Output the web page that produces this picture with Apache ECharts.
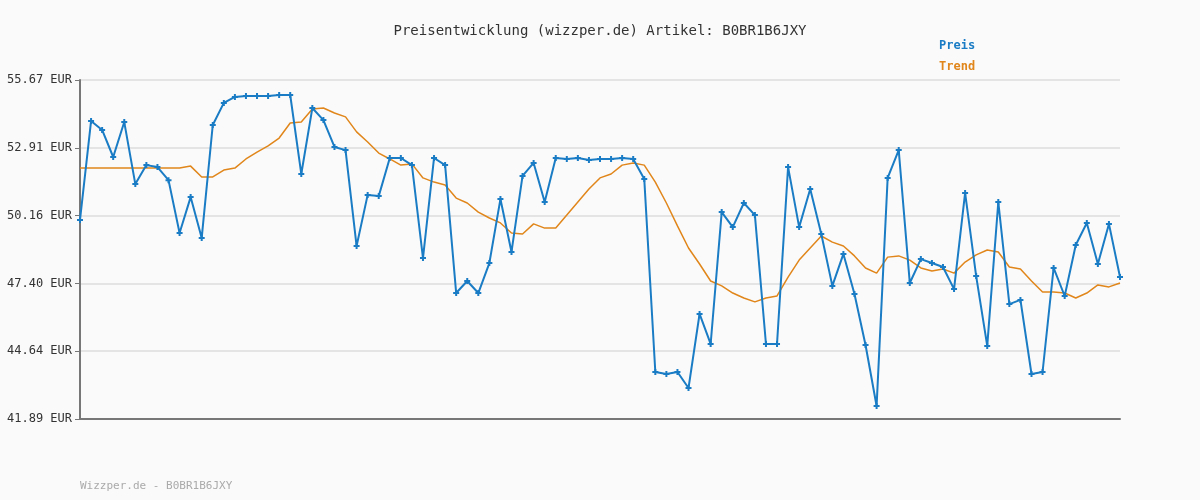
<!DOCTYPE html>
<html><head><meta charset="utf-8">
<script src="https://cdn.jsdelivr.net/npm/echarts@6/dist/echarts.min.js"></script>
<style>html,body{margin:0;padding:0;background:#fafafa}#c{width:1200px;height:500px}</style>
</head><body><div id="c"></div>
<script>
const preis = [49.98,54.00,53.64,52.54,53.96,51.44,52.21,52.13,51.60,49.45,50.91,49.25,53.84,54.74,54.98,55.02,55.02,55.02,55.06,55.06,
51.85,54.53,54.04,52.95,52.82,48.92,51.00,50.95,52.50,52.50,52.21,48.43,52.50,52.21,47.01,47.50,47.01,48.23,50.83,48.68,
51.77,52.30,50.71,52.50,52.46,52.50,52.42,52.46,52.46,52.50,52.46,51.65,43.80,43.72,43.80,43.15,46.16,44.94,50.30,49.69,
50.67,50.18,44.94,44.94,52.13,49.69,51.24,49.41,47.30,48.60,46.97,44.90,42.42,51.69,52.82,47.42,48.39,48.23,48.07,47.17,
51.08,47.70,44.86,50.71,46.56,46.73,43.72,43.80,48.03,46.89,48.96,49.86,48.19,49.82,47.66];
const trend = [52.09,52.09,52.09,52.09,52.09,52.09,52.09,52.09,52.09,52.09,52.17,51.73,51.73,52.01,52.09,52.46,52.74,52.99,53.31,53.92,
53.96,54.49,54.53,54.33,54.17,53.56,53.15,52.70,52.46,52.21,52.26,51.69,51.52,51.40,50.87,50.67,50.30,50.06,49.86,49.45,
49.41,49.82,49.65,49.65,50.18,50.71,51.24,51.69,51.85,52.21,52.30,52.21,51.52,50.67,49.74,48.84,48.19,47.50,47.30,47.01,
46.81,46.65,46.81,46.89,47.66,48.35,48.84,49.33,49.08,48.92,48.52,48.03,47.82,48.47,48.52,48.35,48.03,47.91,47.99,47.82,
48.27,48.56,48.76,48.68,48.07,47.99,47.50,47.05,47.05,47.01,46.81,47.01,47.34,47.26,47.42];
const categories = preis.map((_, i) => String(i + 1));
const yTicks = ['41.89 EUR','44.64 EUR','47.40 EUR','50.16 EUR','52.91 EUR','55.67 EUR'];
const yMin = 41.89, yMax = 55.67, yStep = 2.756;
const mono = 'DejaVu Sans Mono';
const chart = echarts.init(document.getElementById('c'));
chart.setOption({
  backgroundColor: '#fafafa',
  animation: false,
  title: { text: 'Preisentwicklung (wizzper.de) Artikel: B0BR1B6JXY', left: 'center', top: 19,
    textStyle: { fontFamily: mono, fontSize: 14, fontWeight: 'normal', color: '#333' } },
  graphic: [
    { type: 'text', left: 939, top: 40, style: { text: 'Preis', fill: '#1a7cc4', font: 'bold 12px "DejaVu Sans Mono"' } },
    { type: 'text', left: 939, top: 61, style: { text: 'Trend', fill: '#e0861a', font: 'bold 12px "DejaVu Sans Mono"' } },
    { type: 'text', left: 80, top: 481, style: { text: 'Wizzper.de - B0BR1B6JXY', fill: '#aaa', font: '11px "DejaVu Sans Mono"' } }
  ],
  grid: { left: 80, right: 80, top: 80, bottom: 81 },
  xAxis: { type: 'category', data: categories, boundaryGap: false,
    axisLine: { lineStyle: { color: '#777', width: 2 } }, axisTick: { show: false }, axisLabel: { show: false } },
  yAxis: { type: 'value', min: yMin, max: yMax, interval: yStep,
    axisLine: { show: true, lineStyle: { color: '#777', width: 2 } },
    axisTick: { show: true, length: 5, lineStyle: { color: '#777' } },
    splitLine: { lineStyle: { color: '#e4e4e4', width: 2 } },
    axisLabel: { fontFamily: mono, fontSize: 12, color: '#333', margin: 8,
      formatter: v => yTicks[Math.round((v - yMin) / yStep)] } },
  series: [
    { name: 'Preis', type: 'line', data: preis, symbol: 'path://M2,0H4V2H6V4H4V6H2V4H0V2H2Z', symbolSize: 6,
      itemStyle: { color: '#1a7cc4' }, lineStyle: { color: '#1a7cc4', width: 2 }, z: 3 },
    { name: 'Trend', type: 'line', data: trend, showSymbol: false,
      lineStyle: { color: '#e0861a', width: 1.5 }, z: 2 }
  ]
});
</script></body></html>
